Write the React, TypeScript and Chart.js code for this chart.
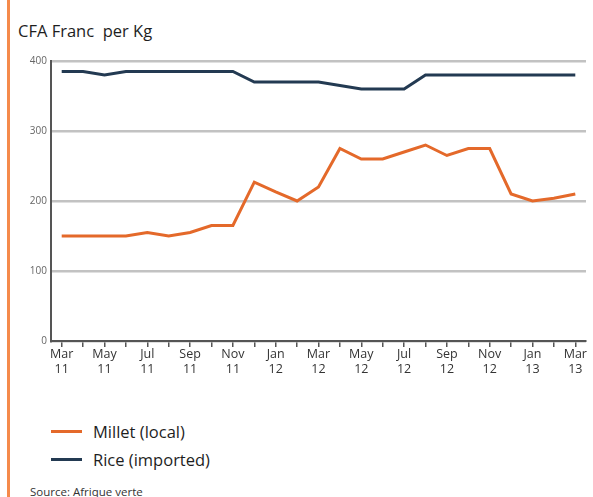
import React, { useEffect, useRef } from "react";
import { Chart, registerables } from "chart.js";

Chart.register(...registerables);

const months = ["Mar","Apr","May","Jun","Jul","Aug","Sep","Oct","Nov","Dec","Jan","Feb","Mar","Apr","May","Jun","Jul","Aug","Sep","Oct","Nov","Dec","Jan","Feb","Mar"];
const years = ["11","11","11","11","11","11","11","11","11","11","12","12","12","12","12","12","12","12","12","12","12","12","13","13","13"];
const millet = [150,150,150,150,155,150,155,165,165,227,213,200,220,275,260,260,270,280,265,275,275,210,200,204,210];
const rice = [385,385,380,385,385,385,385,385,385,370,370,370,370,365,360,360,360,380,380,380,380,380,380,380,380];
const yTicks = [0,100,200,300,400];

const FONT = "'Open Sans', 'Noto Sans', sans-serif";

export default function App() {
  const ref = useRef<HTMLCanvasElement>(null);
  useEffect(() => {
    const ctx = ref.current!;
    const chart = new Chart(ctx, {
      type: "line",
      data: {
        labels: months,
        datasets: [
          { label: "Millet (local)", data: millet, borderColor: "#e4692a", borderWidth: 3, pointRadius: 0, tension: 0 },
          { label: "Rice (imported)", data: rice, borderColor: "#233a52", borderWidth: 3, pointRadius: 0, tension: 0 },
        ],
      },
      options: {
        animation: false,
        responsive: false,
        maintainAspectRatio: false,
        layout: { padding: { top: 11, right: 7, left: 0, bottom: 0 } },
        plugins: { legend: { display: false }, tooltip: { enabled: false } },
        scales: {
          x: {
            type: "category",
            offset: true,
            grid: { offset: false, drawOnChartArea: false, drawTicks: true, tickLength: 6, color: "#555", lineWidth: 1.5 },
            border: { color: "#555", width: 2 },
            ticks: {
              autoSkip: false,
              maxRotation: 0,
              padding: 0,
              color: "#333",
              font: { family: FONT, size: 12.5, lineHeight: 1.2 },
              callback: (_v: any, i: number) => (i % 2 === 0 ? [months[i], years[i]] : ""),
            },
            afterFit: (s: any) => { s.height = 49; },
          },
          y: {
            min: 0,
            max: 400,
            afterBuildTicks: (s: any) => { s.ticks = yTicks.map((v) => ({ value: v })); },
            grid: { color: "#c2c2c2", lineWidth: 2.5, drawTicks: false },
            border: { color: "#555", width: 2 },
            ticks: { color: "#666", padding: 4, font: { family: FONT, size: 10 } },
            afterFit: (s: any) => { s.width = 51; },
          },
        },
      },
    });
    return () => chart.destroy();
  }, []);

  const legendItem = (color: string, text: string, top: number) => (
    <div style={{ position: "absolute", left: 51, top, display: "flex", alignItems: "center" }}>
      <div style={{ width: 31, height: 3, background: color, marginRight: 11 }} />
      <span style={{ fontFamily: FONT, fontSize: 16.5, color: "#1e1e1e" }}>{text}</span>
    </div>
  );

  return (
    <div style={{ position: "fixed", left: 0, top: 0, width: 593, height: 497, overflow: "hidden", background: "#fff" }}>
      <div style={{ position: "absolute", left: 7, top: 0, width: 3, height: 497, background: "#f58a4b" }} />
      <div style={{ position: "absolute", left: 18, top: 19, fontFamily: FONT, fontSize: 16.5, color: "#1e1e1e" }}>CFA Franc&nbsp; per Kg</div>
      <canvas ref={ref} width={593} height={340} style={{ position: "absolute", left: 0, top: 50, width: 593, height: 340 }} />
      {legendItem("#e4692a", "Millet (local)", 420)}
      {legendItem("#233a52", "Rice (imported)", 448)}
      <div style={{ position: "absolute", left: 30, top: 484, fontFamily: FONT, fontSize: 11.5, color: "#333" }}>Source: Afrique verte</div>
    </div>
  );
}
